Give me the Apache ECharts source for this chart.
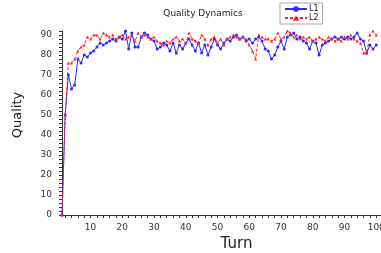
<!DOCTYPE html>
<html>
<head>
<meta charset="utf-8">
<script src="https://cdn.jsdelivr.net/npm/echarts@6/dist/echarts.min.js"></script>
<style>
  html, body { margin: 0; padding: 0; background: #fff; }
  #chart { width: 381px; height: 253px; }
</style>
</head>
<body>
<div id="chart"></div>
<script>
const turns = Array.from({ length: 100 }, (_, i) => i + 1);

const l1 = [
  0, 50, 70, 63, 65, 78, 76, 80, 79, 81,
  82, 84, 86, 85, 86, 87, 88, 87, 89, 88,
  92, 83, 91, 84, 84, 89, 91, 90, 88, 87,
  83, 84, 86, 85, 82, 86, 81, 85, 83, 86,
  88, 85, 82, 86, 81, 85, 80, 84, 88, 85,
  83, 86, 88, 87, 89, 90, 88, 89, 87, 88,
  86, 88, 89, 87, 83, 82, 78, 80, 84, 87,
  83, 89, 90, 91, 88, 89, 87, 86, 83, 87,
  86, 80, 85, 86, 87, 88, 89, 88, 89, 88,
  89, 88, 89, 91, 88, 87, 81, 85, 83, 85
];

const l2 = [
  0, 50, 76, 76, 78, 82, 84, 85, 89, 88,
  90, 90, 88, 91, 90, 89, 90, 88, 89, 90,
  88, 89, 90, 87, 91, 89, 90, 89, 88, 89,
  87, 86, 85, 87, 86, 88, 89, 87, 88, 86,
  91, 88, 87, 86, 90, 88, 85, 88, 89, 86,
  88, 85, 88, 89, 90, 89, 88, 89, 88, 85,
  82, 78, 90, 89, 88, 88, 87, 88, 91, 88,
  89, 92, 91, 89, 90, 88, 89, 88, 89, 87,
  88, 89, 88, 87, 89, 88, 87, 88, 87, 89,
  88, 90, 88, 87, 86, 81, 81, 90, 92, 90
];

const xTickLabels = [10, 20, 30, 40, 50, 60, 70, 80, 90, 100];
const yTickLabels = [0, 10, 20, 30, 40, 50, 60, 70, 80, 90];

// small ticks every 2 units on both axes
const xTicks = [];
for (let v = 2; v <= 100; v += 2) xTicks.push(v);
const yTicks = [];
for (let v = 0; v <= 92; v += 2) yTicks.push(v);

const font = "DejaVu Sans";
const chart = echarts.init(document.getElementById("chart"), null, { renderer: "canvas" });

chart.setOption({
  animation: false,
  textStyle: { fontFamily: font },
  title: {
    text: "Quality Dynamics",
    left: 198,
    top: 4,
    textAlign: "center",
    textStyle: { fontFamily: font, fontSize: 9, fontWeight: "normal", color: "#222" },
  },
  legend: {
    orient: "vertical",
    left: 280,
    top: 3,
    padding: [2, 4, 2, 4],
    itemGap: 1,
    itemWidth: 22,
    itemHeight: 7,
    borderColor: "#aaa",
    borderWidth: 1,
    backgroundColor: "#fff",
    textStyle: { fontFamily: font, fontSize: 8, color: "#222", padding: [0, 0, 0, -3] },
    data: ["L1", "L2"],
  },
  grid: { left: 62, right: 0, top: 31, bottom: 38, containLabel: false, outerBoundsMode: "none" },
  xAxis: {
    type: "value",
    min: 1,
    max: 101.5,
    name: "Turn",
    nameLocation: "middle",
    nameGap: 20,
    nameTextStyle: { fontFamily: font, fontSize: 15, color: "#222", padding: [0, 0, 0, 30] },
    axisLine: { show: true, lineStyle: { color: "#333", width: 1 } },
    axisTick: { show: true, length: 3, customValues: xTicks, lineStyle: { color: "#333" } },
    axisLabel: { customValues: xTickLabels, fontSize: 9, color: "#333", margin: 8 },
    splitLine: { show: false },
  },
  yAxis: {
    type: "value",
    min: 0,
    max: 92,
    name: "Quality",
    nameLocation: "middle",
    nameGap: 38,
    nameRotate: 90,
    nameTextStyle: { fontFamily: font, fontSize: 13, color: "#222", padding: [0, 0, 0, 16] },
    axisLine: { show: true, lineStyle: { color: "#333", width: 1 } },
    axisTick: { show: true, length: 3, customValues: yTicks, lineStyle: { color: "#333" } },
    axisLabel: { customValues: yTickLabels, fontSize: 9, color: "#333", margin: 10 },
    splitLine: { show: false },
  },
  series: [
    {
      name: "L1",
      type: "line",
      data: turns.map((t, i) => [t, l1[i]]),
      symbol: "circle",
      symbolSize: 3,
      showAllSymbol: true,
      color: "#2a2aff",
      lineStyle: { width: 1, color: "#2a2aff" },
      itemStyle: { color: "#2a2aff" },
    },
    {
      name: "L2",
      type: "line",
      data: turns.map((t, i) => [t, l2[i]]),
      symbol: "triangle",
      symbolSize: 3,
      showAllSymbol: true,
      color: "#ff2020",
      lineStyle: { width: 1, type: [3, 2], color: "#ff2020" },
      itemStyle: { color: "#ff2020" },
    },
  ],
});
</script>
</body>
</html>
